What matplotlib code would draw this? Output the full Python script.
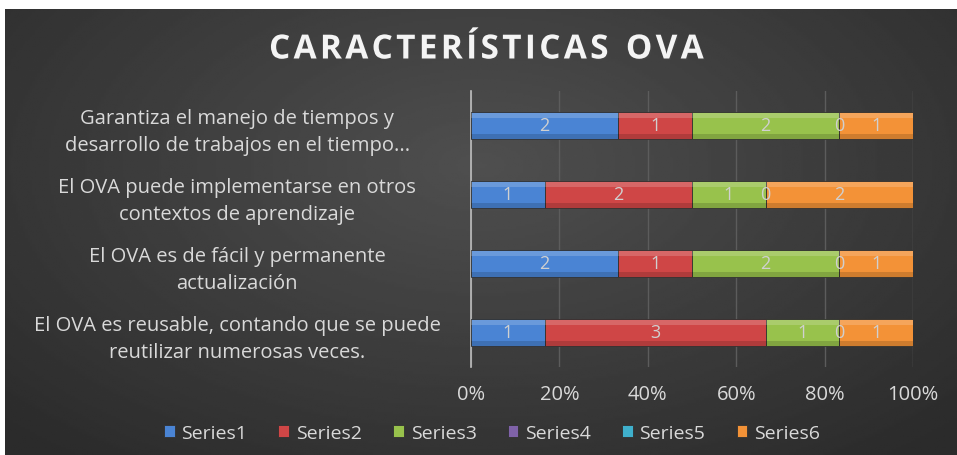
import numpy as np
import matplotlib.pyplot as plt
import matplotlib.patheffects as pe

categories = [
    "El OVA es reusable, contando que se puede\nreutilizar numerosas veces.",
    "El OVA es de fácil y permanente\nactualización",
    "El OVA puede implementarse en otros\ncontextos de aprendizaje",
    "Garantiza el manejo de tiempos y\ndesarrollo de trabajos en el tiempo...",
]
series_names = ["Series1", "Series2", "Series3", "Series4", "Series5", "Series6"]
s1 = [1, 2, 1, 2]
s2 = [3, 1, 2, 1]
s3 = [1, 2, 1, 2]
s4 = [0, 0, 0, 0]
s5 = [0, 0, 0, 0]
s6 = [1, 1, 2, 1]
series = [s1, s2, s3, s4, s5, s6]
colors = ["#4a84d4", "#cf4646", "#98c24c", "#7f62a8", "#3fb0cc", "#f39237"]

plt.rcParams['font.family'] = ['Open Sans', 'DejaVu Sans']

fig = plt.figure(figsize=(9.57, 4.56), dpi=100)
fig.patch.set_facecolor("white")

# dark radial background
bg = fig.add_axes([5 / 957, 0, 952 / 957, 446 / 456])
yy, xx = np.mgrid[-1:1:200j, -1:1:400j]
r = np.sqrt((xx / 1.0) ** 2 + ((yy + 0.3) / 1.2) ** 2)
img = 0.31 - 0.14 * np.clip(r, 0, 1.4) / 1.4
bg.imshow(img, cmap="gray", vmin=0, vmax=1, aspect="auto", extent=[0, 1, 0, 1])
bg.set_axis_off()

title = "\u200a".join("CARACTERÍSTICAS") + "  " + "\u200a".join("OVA")
fig.text(487 / 957, 1 - 51 / 456, title, ha="center", va="center",
         fontsize=24, color="#f4f4f4", fontweight="bold",
         path_effects=[pe.withSimplePatchShadow(offset=(1, -1), alpha=0.5)])

ax = fig.add_axes([471 / 957, 1 - 368 / 456, (913 - 471) / 957, 276 / 456])
ax.patch.set_alpha(0)

data = np.array(series, dtype=float)
totals = data.sum(axis=0)
pct = data / totals
y = np.arange(len(categories))
left = np.zeros(len(categories))
for i, name in enumerate(series_names):
    ax.barh(y, pct[i], left=left, height=0.4, color=colors[i], label=name,
            edgecolor="#303030", linewidth=0.6, zorder=3)
    # bevel: lighter top, darker bottom
    ax.barh(y + 0.15, pct[i], left=left, height=0.07, color="white", alpha=0.18,
            linewidth=0, zorder=4)
    ax.barh(y - 0.16, pct[i], left=left, height=0.06, color="black", alpha=0.15,
            linewidth=0, zorder=4)
    if i != 4:
        for j in range(len(categories)):
            v = data[i, j]
            ax.text(left[j] + pct[i, j] / 2, y[j], f"{int(v)}", ha="center", va="center",
                    color="#d0d0d0", fontsize=13, zorder=5)
    left += pct[i]

ax.set_xlim(0, 1)
ax.set_ylim(-0.5, len(categories) - 0.5)
ax.set_xticks(np.arange(0, 1.01, 0.2))
ax.set_xticklabels([f"{int(t * 100)}%" for t in np.arange(0, 1.01, 0.2)])
ax.set_yticks(y)
ax.set_yticklabels(categories, linespacing=1.45)
for lab in ax.get_yticklabels():
    lab.set_horizontalalignment("center")
    lab.set_x(-0.529)
ax.tick_params(axis="x", colors="#d9d9d9", labelsize=14.5, length=0, pad=12)
ax.tick_params(axis="y", colors="#d9d9d9", labelsize=14.5, length=0, pad=0)
ax.grid(axis="x", color="#5c5c5c", linewidth=1, zorder=0)
for s in ["top", "right", "bottom"]:
    ax.spines[s].set_visible(False)
ax.spines["left"].set_color("#bfbfbf")
ax.spines["left"].set_linewidth(1.2)

leg = fig.legend(loc="center", bbox_to_anchor=(492 / 957, 1 - 434 / 456), ncol=6,
                 frameon=False, fontsize=14, handlelength=0.55, handleheight=0.55,
                 handletextpad=0.35, columnspacing=1.6)
for t in leg.get_texts():
    t.set_color("#d9d9d9")

fig.savefig("out.png", dpi=100, facecolor=fig.get_facecolor())
